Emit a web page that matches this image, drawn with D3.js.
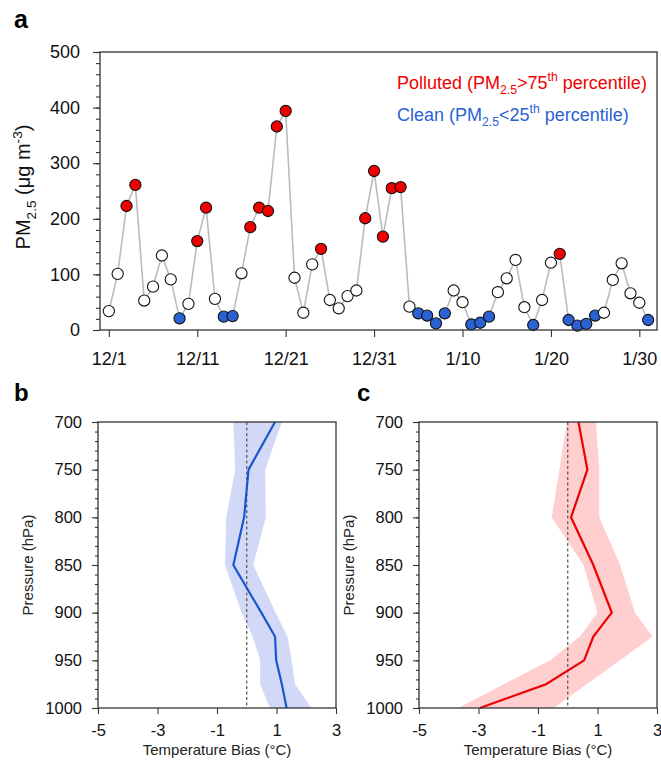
<!DOCTYPE html>
<html>
<head>
<meta charset="utf-8">
<script src="https://cdn.jsdelivr.net/npm/d3@7"></script>
<style>
  body { margin: 0; background: #fff; }
  svg { display: block; }
  text { font-family: "Liberation Sans", Arial, sans-serif; }
</style>
</head>
<body>
<svg id="chart" width="661" height="760"></svg>
<script>
// daily PM2.5, 12/1 .. 1/31
var pmValues = [34, 101, 223, 261, 53, 78, 134, 91, 21, 47,
                160, 220, 56, 24, 25, 102, 185, 220, 214, 366,
                394, 94, 31, 118, 146, 54, 39, 61, 71, 201,
                286, 168, 255, 257, 42, 30, 26, 12, 30, 71,
                50, 10, 13, 24, 68, 93, 126, 41, 9, 54,
                121, 137, 18, 8, 11, 26, 31, 90, 120, 66,
                49, 18];
// p = polluted, c = clean, n = neither
var pmClass = ("nnppnnnncn" + "ppnccnpppp" + "pnnnpnnnnp" + "ppppnccccn" +
               "ncccnnnncn" + "npccccnnnn" + "nc").split("");
var dateTicks = ["2016-12-01", "2016-12-11", "2016-12-21", "2016-12-31", "2017-01-10", "2017-01-20", "2017-01-30"];

// temperature bias profiles
var pressureLevels = [700, 750, 800, 850, 900, 925, 950, 975, 1000];
var cleanMean = [0.95, 0.06, -0.09, -0.45, 0.49, 0.95, 0.99, 1.18, 1.34];
var cleanLow  = [-0.45, -0.39, -0.69, -0.73, -0.17, 0.2, 0.45, 0.45, 0.78];
var cleanHigh = [1.18, 0.62, 0.64, 0.22, 0.97, 1.37, 1.51, 1.62, 2.18];
var pollMean  = [0.36, 0.66, 0.11, 0.86, 1.48, 0.86, 0.55, -0.73, -2.95];
var pollLow   = [-0.03, -0.28, -0.54, 0.53, 1.0, 0.41, -0.59, -2.15, -3.68];
var pollHigh  = [0.95, 1.06, 1.06, 1.76, 2.26, 2.85, 1.76, 0.64, -0.48];
var biasTicks = [-5, -3, -1, 1, 3];
var pressureTicks = [700, 750, 800, 850, 900, 950, 1000];

var RED = "#f00000", BLUE = "#2a62d2", FRAME = "#333";
var svg = d3.select("#chart");
var parse = d3.timeParse("%Y-%m-%d");
var fmt = d3.timeFormat("%-m/%-d");
var plain = function (d) { return String(d); }; // keep plain hyphen, no thousands comma

// little helper for tick styling
function styleAxis(g, size) {
    g.select(".domain").remove();
    g.selectAll("line").attr("stroke", FRAME).attr("stroke-width", 1.1);
    g.selectAll("text").attr("fill", "#111").style("font-size", size + "px");
}

////////////// panel a //////////////
var a = { left: 100, right: 657, top: 52, bottom: 330 };
var day0 = parse("2016-12-01");
var pmRows = pmValues.map(function (v, i) {
    return { date: d3.timeDay.offset(day0, i), value: v, cls: pmClass[i] };
});

var xA = d3.scaleTime()
    .domain([d3.timeDay.offset(day0, -1), d3.timeDay.offset(day0, 62)])
    .range([a.left, a.right]);
var yA = d3.scaleLinear().domain([0, 500]).range([a.bottom, a.top]);

svg.append("g")
    .attr("transform", "translate(0," + a.bottom + ")")
    .call(d3.axisBottom(xA).tickValues(dateTicks.map(parse)).tickFormat(fmt).tickSize(7).tickPadding(15))
    .call(styleAxis, 18);

svg.append("g")
    .attr("transform", "translate(" + a.left + ",0)")
    .call(d3.axisLeft(yA).ticks(25).tickSize(4).tickFormat(""))
    .call(styleAxis, 18);
svg.append("g")
    .attr("transform", "translate(" + a.left + ",0)")
    .call(d3.axisLeft(yA).tickValues([0, 100, 200, 300, 400, 500]).tickFormat(plain).tickSize(7).tickPadding(13))
    .call(styleAxis, 18);

svg.append("path")
    .datum(pmRows)
    .attr("fill", "none")
    .attr("stroke", "#bbbbbb")
    .attr("stroke-width", 1.6)
    .attr("d", d3.line().x(function (d) { return xA(d.date); }).y(function (d) { return yA(d.value); }));

svg.append("g").selectAll("circle")
    .data(pmRows)
    .join("circle")
    .attr("cx", function (d) { return xA(d.date); })
    .attr("cy", function (d) { return yA(d.value); })
    .attr("r", 5.6)
    .attr("fill", function (d) { return d.cls == "p" ? RED : (d.cls == "c" ? BLUE : "#fff"); })
    .attr("stroke", "#111")
    .attr("stroke-width", 1.1);

svg.append("rect")
    .attr("x", a.left).attr("y", a.top)
    .attr("width", a.right - a.left).attr("height", a.bottom - a.top)
    .attr("fill", "none").attr("stroke", FRAME).attr("stroke-width", 1.3);

// legend
function subSupText(g, parts, size) {
    var t = g.append("text").style("font-size", size + "px");
    parts.forEach(function (p) {
        var ts = t.append("tspan").text(p.t);
        if (p.sub) ts.attr("dy", size * 0.3).style("font-size", (size * 0.68) + "px");
        if (p.sup) ts.attr("dy", -size * 0.42).style("font-size", (size * 0.68) + "px");
        if (p.back) ts.attr("dy", p.back);
    });
    return t;
}
var leg = svg.append("g");
subSupText(leg, [
    { t: "Polluted (PM" }, { t: "2.5", sub: true }, { t: ">75", back: -18 * 0.3 },
    { t: "th", sup: true }, { t: " percentile)", back: 18 * 0.42 }
], 18).attr("x", 397).attr("y", 89).attr("fill", RED);
subSupText(leg, [
    { t: "Clean (PM" }, { t: "2.5", sub: true }, { t: "<25", back: -18 * 0.3 },
    { t: "th", sup: true }, { t: " percentile)", back: 18 * 0.42 }
], 18).attr("x", 397).attr("y", 121).attr("fill", BLUE);

// y title
subSupText(svg, [
    { t: "PM" }, { t: "2.5", sub: true }, { t: " (μg m", back: -20 * 0.3 },
    { t: "-3", sup: true }, { t: ")", back: 20 * 0.42 }
], 20).attr("text-anchor", "middle").attr("fill", "#111")
    .attr("transform", "translate(30,187) rotate(-90)");

svg.append("text").attr("x", 14).attr("y", 28).text("a")
    .style("font-size", "25px").style("font-weight", "bold");

////////////// panels b and c //////////////
function profilePanel(box, mean, low, high, lineColor, shadeColor, letter, letterX) {
    var x = d3.scaleLinear().domain([-5, 3]).range([box.left, box.right]);
    var y = d3.scaleLinear().domain([700, 1000]).range([box.top, box.bottom]);
    var rows = pressureLevels.map(function (p, i) {
        return { p: p, mean: mean[i], low: low[i], high: high[i] };
    });

    svg.append("path")
        .datum(rows)
        .attr("fill", shadeColor)
        .attr("d", d3.area()
            .y(function (d) { return y(d.p); })
            .x0(function (d) { return x(d.low); })
            .x1(function (d) { return x(d.high); }));

    svg.append("line")
        .attr("x1", x(0)).attr("x2", x(0))
        .attr("y1", box.top).attr("y2", box.bottom)
        .attr("stroke", "#555").attr("stroke-width", 1.2)
        .attr("stroke-dasharray", "3,2.5");

    svg.append("path")
        .datum(rows)
        .attr("fill", "none")
        .attr("stroke", lineColor)
        .attr("stroke-width", 2.2)
        .attr("d", d3.line().y(function (d) { return y(d.p); }).x(function (d) { return x(d.mean); }));

    svg.append("g")
        .attr("transform", "translate(0," + box.bottom + ")")
        .call(d3.axisBottom(x).tickValues(biasTicks).tickFormat(plain).tickSize(6).tickPadding(10))
        .call(styleAxis, 16.5);
    svg.append("g")
        .attr("transform", "translate(" + box.left + ",0)")
        .call(d3.axisLeft(y).ticks(30).tickSize(3).tickFormat(""))
        .call(styleAxis, 16.5);
    svg.append("g")
        .attr("transform", "translate(" + box.left + ",0)")
        .call(d3.axisLeft(y).tickValues(pressureTicks).tickFormat(plain).tickSize(6).tickPadding(10))
        .call(styleAxis, 16.5);

    svg.append("rect")
        .attr("x", box.left).attr("y", box.top)
        .attr("width", box.right - box.left).attr("height", box.bottom - box.top)
        .attr("fill", "none").attr("stroke", FRAME).attr("stroke-width", 1.3);

    svg.append("text")
        .attr("x", (box.left + box.right) / 2).attr("y", 755)
        .attr("text-anchor", "middle").attr("fill", "#222")
        .style("font-size", "15px")
        .text("Temperature Bias (°C)");
    svg.append("text")
        .attr("text-anchor", "middle").attr("fill", "#222")
        .attr("transform", "translate(" + (box.left - 65) + "," + ((box.top + box.bottom) / 2) + ") rotate(-90)")
        .style("font-size", "15px")
        .text("Pressure (hPa)");
    svg.append("text").attr("x", letterX).attr("y", 401).text(letter)
        .style("font-size", "24px").style("font-weight", "bold");
}

profilePanel({ left: 98, right: 336, top: 422, bottom: 708 },
    cleanMean, cleanLow, cleanHigh, "#1a56d0", "#d2d9f6", "b", 14);
profilePanel({ left: 419, right: 657, top: 422, bottom: 708 },
    pollMean, pollLow, pollHigh, "#ee0000", "#ffcfcf", "c", 357);
</script>
</body>
</html>
